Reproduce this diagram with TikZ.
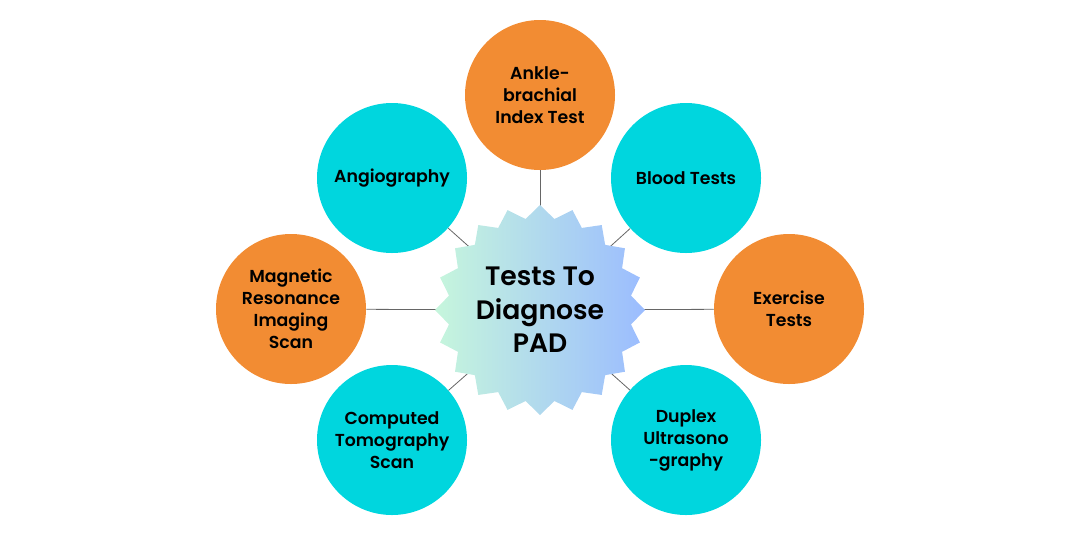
\documentclass[tikz,border=0pt]{standalone}
\usepackage{fontspec}
\setmainfont{Poppins}[BoldFont={* SemiBold}]
\usetikzlibrary{shapes.geometric}
\definecolor{org}{HTML}{F28C33}
\definecolor{cya}{HTML}{00D6DE}
\definecolor{gl}{HTML}{C6F6DC}
\definecolor{bl}{HTML}{9BBCFF}
\tikzset{
 bub/.style={circle,minimum size=150*0.75pt,inner sep=0pt,align=center,font=\bfseries\fontsize{13}{16.5}\selectfont},
 ob/.style={bub,fill=org},
 cb/.style={bub,fill=cya},
 link/.style={draw=gray!80!black,line width=0.6pt}
}
\begin{document}
\begin{tikzpicture}[x=0.75pt,y=-0.75pt]
\useasboundingbox (0,0) rectangle (1080,533);
\coordinate (c) at (540,310);
\node[ob] (a) at (540,95) {Ankle-\\brachial\\Index Test};
\node[cb] (b) at (392,178) {Angiography};
\node[cb] (d) at (686,178) {Blood Tests};
\node[ob] (e) at (291,309) {Magnetic\\Resonance\\Imaging\\Scan};
\node[ob] (f) at (789,309) {Exercise\\Tests};
\node[cb] (g) at (392,440) {Computed\\Tomography\\Scan};
\node[cb] (h) at (686,440) {Duplex\\Ultrasono\\-graphy};
\foreach \n in {a,b,d,e,f,g,h} \draw[link] (c) -- (\n);
\node[star,star points=20,star point ratio=1.14,minimum size=210*0.75pt,inner sep=0pt,left color=gl,right color=bl,shading angle=90,align=center,font=\bfseries\fontsize{20}{25}\selectfont] (s) at (c) {Tests To\\Diagnose\\PAD};
\end{tikzpicture}
\end{document}
